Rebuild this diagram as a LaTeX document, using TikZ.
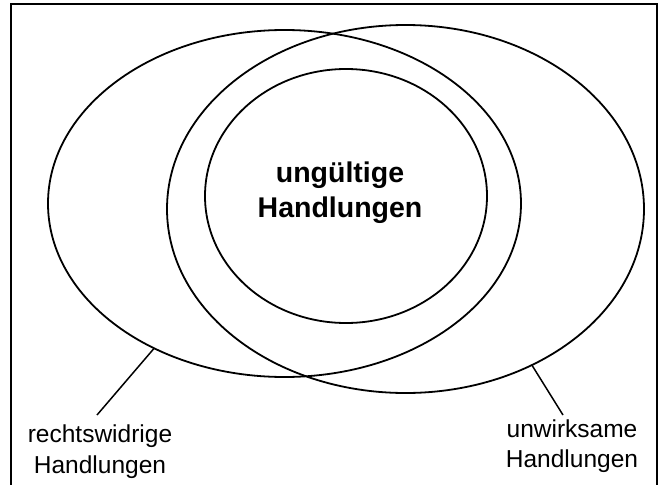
\documentclass[tikz,border=0pt]{standalone}
\usepackage{fontspec}
\setmainfont{Liberation Sans}
\usetikzlibrary{shapes.geometric}
\begin{document}
\begin{tikzpicture}[x=1pt,y=-1pt,
  set/.style={draw=black, line width=1.8pt, ellipse, inner sep=0pt, outer sep=0pt},
  lbl/.style={align=center, font=\fontsize{24.5}{30.5}\selectfont, inner sep=0pt},
  ttl/.style={align=center, font=\bfseries\fontsize{28.5}{35}\selectfont, inner sep=0pt},
  lead/.style={line width=1.5pt},
  frame/.style={line width=2.4pt}]
\useasboundingbox (0,0) rectangle (665,485);
\draw[frame] (11,4) rectangle (657,495);
\node[set, minimum width=473pt, minimum height=347pt] (L) at (284.5,203.5) {};
\node[set, minimum width=477pt, minimum height=368pt] (R) at (405.5,209) {};
\node[set, minimum width=282pt, minimum height=254pt] (I) at (346,196) {};
\node[ttl] (t) at (340,193) {ungültige\\Handlungen};
\node[lbl] (lw) at (100,451.5) {rechtswidrige\\Handlungen};
\node[lbl] (uw) at (572,446) {unwirksame\\Handlungen};
\coordinate (lt) at (97,415);
\coordinate (rt) at (563,415);
\draw[lead] (L.228.7) -- (lt);
\draw[lead] (R.309) -- (rt);
\end{tikzpicture}
\end{document}
